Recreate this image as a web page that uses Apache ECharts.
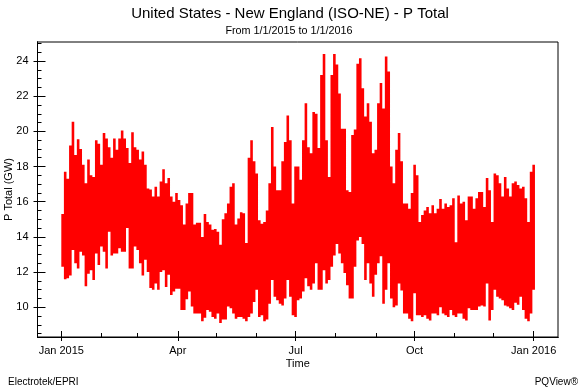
<!DOCTYPE html>
<html><head><meta charset="utf-8">
<script src="https://cdn.jsdelivr.net/npm/echarts@6/dist/echarts.min.js"></script>
<style>html,body{margin:0;padding:0;background:#fff}#c{width:587px;height:392px}</style>
</head><body><div id="c"></div>
<script>
// Day-of-year (2015) tick positions and labels
const quarterDays = [0, 90, 181, 273, 365];
const quarterLabels = ['Jan 2015', 'Apr', 'Jul', 'Oct', 'Jan 2016'];
const monthDays = [31, 59, 120, 151, 212, 243, 304, 334];
const yMajor = [10, 12, 14, 16, 18, 20, 22, 24];
const yMinor = [8.5, 9, 9.5, 10.5, 11, 11.5, 12.5, 13, 13.5, 14.5, 15, 15.5, 16.5, 17, 17.5, 18.5, 19, 19.5, 20.5, 21, 21.5, 22.5, 23, 23.5, 24.5, 25];
const sampleStepDays = 2;
// P Total (GW): high and low of each 2-day window
const hiGW = [15.3,17.7,17.3,19.2,20.55,18.65,19.55,19.0,18.1,17.05,18.4,17.5,17.4,19.5,19.3,18.1,19.9,19.6,19.1,18.5,
19.6,18.95,19.6,20.05,19.6,19.05,18.2,19.95,19.1,18.95,18.4,18.85,18.1,16.75,16.7,16.3,16.85,16.3,17.15,17.85,
17.05,17.35,16.3,16.0,16.5,16.1,15.8,14.7,15.9,16.5,16.5,14.7,14.8,14.8,14.0,15.3,14.85,14.7,14.4,14.45,
14.3,13.55,15.0,15.35,15.9,16.85,17.05,14.7,15.05,15.4,15.35,13.65,18.5,19.5,18.3,17.6,14.95,14.75,14.85,15.5,
17.05,20.25,18.0,16.65,16.65,18.3,19.4,20.9,19.5,15.9,18.0,18.0,17.25,19.5,21.6,19.1,18.75,21.1,21.0,19.05,
23.2,24.4,19.5,17.4,23.2,24.4,23.8,22.15,20.15,20.15,16.65,16.55,19.8,20.1,23.85,24.15,22.45,20.85,21.6,20.55,
18.75,18.95,21.6,22.75,21.3,24.25,23.4,18.0,17.05,18.95,19.9,18.3,15.9,15.9,15.6,16.5,18.1,17.5,14.85,15.25,
15.5,15.7,15.35,15.8,15.35,15.6,16.15,15.6,15.9,15.7,15.8,16.2,13.7,16.35,15.9,16.0,14.95,16.3,16.3,15.6,
16.2,16.55,16.55,15.7,17.35,16.65,14.85,17.6,17.5,17.05,16.3,17.4,16.75,16.3,17.05,17.15,16.95,16.75,16.85,16.2,
14.85,17.7,18.1];
const loGW = [12.3,11.6,11.65,11.8,13.25,12.5,12.2,13.15,12.95,11.2,11.9,12.1,11.55,13.05,12.4,13.45,13.15,12.2,14.3,12.95,
13.05,13.05,13.35,13.15,13.15,14.5,12.2,12.2,13.45,13.25,12.5,11.8,12.7,12.0,11.1,11.0,11.35,11.0,12.0,12.1,
11.15,11.85,10.7,10.9,11.05,11.05,9.85,9.85,10.45,10.9,10.05,9.65,9.65,9.65,9.2,9.4,9.85,9.75,9.45,9.35,
9.65,9.1,9.3,9.3,10.05,9.95,9.65,9.35,9.45,9.45,9.35,9.2,9.45,9.65,10.3,11.0,9.45,9.55,9.2,9.3,
10.2,11.55,10.6,10.4,10.2,10.1,10.5,11.55,10.6,9.55,9.45,10.4,10.5,10.9,11.65,11.2,11.0,11.35,12.5,11.0,
11.0,12.1,11.35,11.55,12.3,12.95,13.6,13.05,12.5,11.95,11.25,10.5,10.5,12.3,13.8,14.0,13.6,11.55,12.5,11.35,
10.6,11.85,12.5,12.9,10.2,11.0,12.5,10.5,10.0,10.1,11.35,10.95,9.65,9.65,9.35,9.2,10.8,9.55,9.55,9.45,
9.55,9.35,9.25,9.65,9.65,9.55,10.0,9.65,9.55,9.45,9.85,9.55,9.45,9.65,9.65,9.35,9.25,9.95,9.85,9.85,
9.85,10.05,10.1,10.05,11.35,9.25,9.85,11.0,10.6,10.5,10.4,10.1,10.05,9.95,9.85,10.25,10.15,10.6,9.85,9.35,
9.2,9.65,11.0];

const FONT = 'Liberation Sans';
const XMIN = -18.4, XMAX = 383.8, YMIN = 8.31, YMAX = 25.08;
const black = '#000';
const RED = '#ff0000';
function xAx(extra) {
  return Object.assign({
    type: 'value', gridIndex: 0, min: XMIN, max: XMAX, position: 'bottom',
    axisLine: { show: true, onZero: false, lineStyle: { color: black, width: 1 } },
    splitLine: { show: false }, axisLabel: { show: false }, axisTick: { show: false }
  }, extra);
}
function yAx(extra) {
  return Object.assign({
    type: 'value', gridIndex: 0, min: YMIN, max: YMAX, position: 'left',
    axisLine: { show: true, onZero: false, lineStyle: { color: black, width: 1 } },
    splitLine: { show: false }, axisLabel: { show: false }, axisTick: { show: false }
  }, extra);
}

const chart = echarts.init(document.getElementById('c'), null, { renderer: 'canvas' });
chart.setOption({
  animation: false,
  backgroundColor: '#fff',
  color: [RED],
  title: [
    { text: 'United States - New England (ISO-NE) - P Total', left: 285, top: 1, textAlign: 'center',
      textStyle: { fontFamily: FONT, fontSize: 15, fontWeight: 'normal', color: black } },
    { text: 'From 1/1/2015 to 1/1/2016', left: 284, top: 21, textAlign: 'center',
      textStyle: { fontFamily: FONT, fontSize: 10.8, fontWeight: 'normal', color: black } },
    { text: 'Electrotek/EPRI', left: 3, top: 372,
      textStyle: { fontFamily: FONT, fontSize: 10, fontWeight: 'normal', color: black } },
    { text: 'PQView®', right: 4, top: 372,
      textStyle: { fontFamily: FONT, fontSize: 10, fontWeight: 'normal', color: black } }
  ],
  grid: { left: 37.5, top: 42, width: 520.5, height: 295, show: true, borderColor: black, borderWidth: 1,
    backgroundColor: '#fff', containLabel: false, outerBoundsMode: 'none' },
  xAxis: [
    xAx({
      name: 'Time', nameLocation: 'middle', nameGap: 21, nameMoveOverlap: false,
      nameTextStyle: { fontFamily: FONT, fontSize: 11, color: black },
      axisTick: { show: true, inside: true, length: 6, customValues: quarterDays, lineStyle: { color: black } },
      axisLabel: { show: true, margin: 8, customValues: quarterDays, fontFamily: FONT, fontSize: 11, color: black,
        formatter: v => quarterLabels[quarterDays.indexOf(Math.round(v))] || '' }
    }),
    xAx({ axisTick: { show: true, inside: false, length: 4, customValues: quarterDays, lineStyle: { color: black } } }),
    xAx({ axisTick: { show: true, inside: true, length: 4, customValues: monthDays, lineStyle: { color: black } } })
  ],
  yAxis: [
    yAx({
      name: 'P Total (GW)', nameLocation: 'middle', nameGap: 23, nameRotate: 90, nameMoveOverlap: false,
      nameTextStyle: { fontFamily: FONT, fontSize: 11, color: black },
      axisTick: { show: true, inside: true, length: 8, customValues: yMajor, lineStyle: { color: black } },
      axisLabel: { show: true, margin: 9, customValues: yMajor, fontFamily: FONT, fontSize: 11, color: black }
    }),
    yAx({ axisTick: { show: true, inside: false, length: 4, customValues: yMajor, lineStyle: { color: black } } }),
    yAx({ axisTick: { show: true, inside: true, length: 4, customValues: yMinor, lineStyle: { color: black } } })
  ],
  series: [
    {
      // the trace: every 2-day window spans its low..high; drawn as one stepped band
      type: 'custom', xAxisIndex: 0, yAxisIndex: 0, data: [[0, hiGW[0]]], silent: true, clip: true,
      renderItem: function (params, api) {
        const pts = [];
        for (let i = 0; i < hiGW.length; i++) {
          pts.push(api.coord([i * sampleStepDays, hiGW[i]]));
          pts.push(api.coord([(i + 1) * sampleStepDays, hiGW[i]]));
        }
        for (let i = loGW.length - 1; i >= 0; i--) {
          pts.push(api.coord([(i + 1) * sampleStepDays, loGW[i]]));
          pts.push(api.coord([i * sampleStepDays, loGW[i]]));
        }
        return { type: 'polygon', shape: { points: pts }, style: { fill: RED, stroke: null, lineWidth: 0 } };
      }
    }
  ]
});
</script></body></html>
